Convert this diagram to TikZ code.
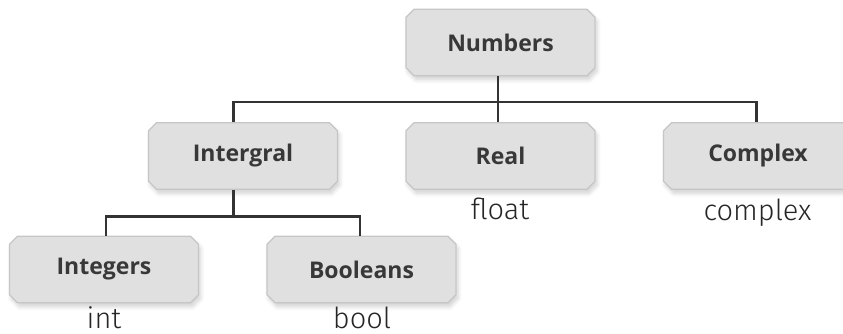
\documentclass[tikz,border=0pt]{standalone}
\usepackage{fontspec}
\newfontfamily\boxfont{Open Sans}
\newfontfamily\labfont{Fira Sans}[UprightFont=* Light]
\usetikzlibrary{shapes.misc,shadows.blur}
\definecolor{boxfill}{HTML}{E0E0E0}
\definecolor{boxline}{HTML}{C6C6C6}
\definecolor{boxtext}{HTML}{383838}
\definecolor{linecol}{HTML}{333333}
\tikzset{
  typebox/.style={chamfered rectangle, chamfered rectangle xsep=4pt, chamfered rectangle ysep=4pt,
    draw=boxline, line width=1.2pt, fill=boxfill,
    minimum width=189pt, minimum height=66.5pt, inner sep=0pt,
    font=\boxfont\bfseries\fontsize{23}{26}\selectfont, text=boxtext,
    blur shadow={shadow xshift=2pt, shadow yshift=-4pt, shadow blur steps=6, shadow blur radius=4pt, shadow opacity=18}},
  pylabel/.style={anchor=base, inner sep=0pt, font=\labfont\fontsize{29}{32}\selectfont, text=black!85},
  conn/.style={draw=linecol, line width=2.6pt}
}
\begin{document}
\begin{tikzpicture}[x=1pt,y=-1pt]
\useasboundingbox (0,0) rectangle (843,334);
\node[typebox] (num) at (500.5,42.5) {Numbers};
\node[typebox] (igl) at (243,156) {Intergral};
\node[typebox] (real) at (500.5,156) {Real};
\node[typebox] (cpx) at (758,156) {Complex};
\node[typebox] (ints) at (104,269.5) {Integers};
\node[typebox] (bools) at (361.5,269.5) {Booleans};
\coordinate (top) at (500,102);
\coordinate (low) at (233,216.5);
\draw[conn] ([xshift=-2.5pt]num.south) -- ([xshift=-2.5pt]real.north);
\draw[conn] ([xshift=-9.5pt]igl.north) |- (top) -| ([xshift=-1.5pt]cpx.north);
\draw[conn] ([xshift=-9.5pt]igl.south) -- ([xshift=-9.5pt]igl.south |- low);
\draw[conn] ([xshift=2pt]ints.north) |- (low) -| ([xshift=-1.5pt]bools.north);
\node[pylabel] (lfloat) at (500,219.5) {float};
\node[pylabel] (lcpx) at (757.5,220) {complex};
\node[pylabel] (lint) at (104,328) {int};
\node[pylabel] (lbool) at (362,328) {bool};
\end{tikzpicture}
\end{document}
